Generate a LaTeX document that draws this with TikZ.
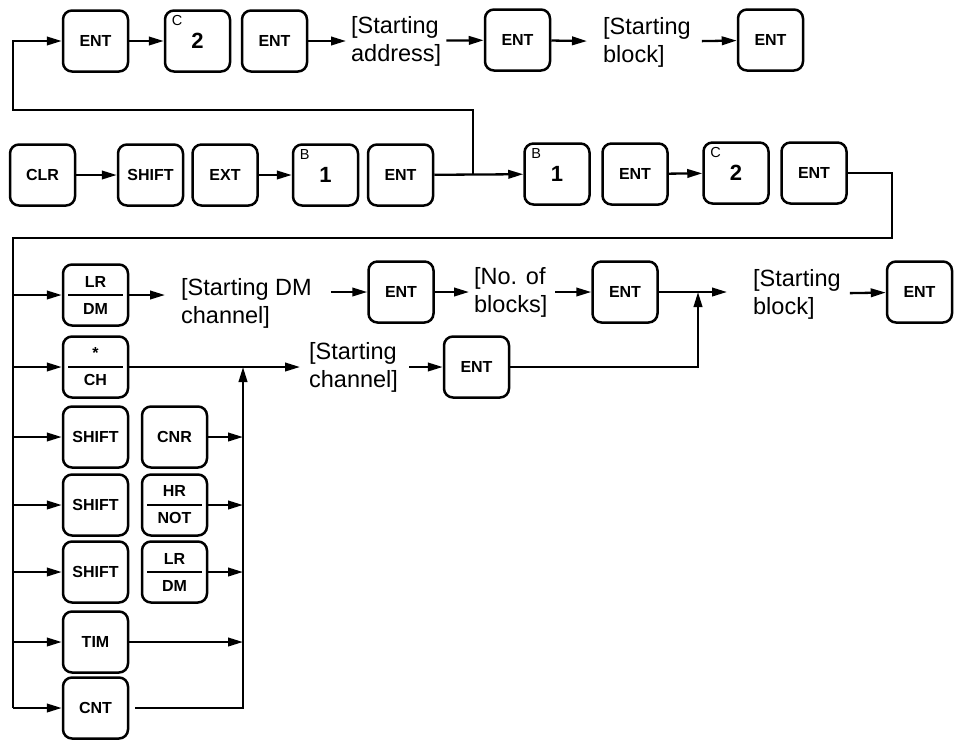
\documentclass[tikz,border=0pt]{standalone}
\usepackage{fontspec}
\setmainfont{Liberation Sans}
\usetikzlibrary{arrows.meta}
\tikzset{
    keybox/.style={draw, line width=2.5pt, rounded corners=9pt, minimum width=65pt,
        minimum height=61pt, inner sep=0pt, font=\bfseries\fontsize{16}{18}\selectfont},
    numbox/.style={keybox, font=\bfseries\fontsize{22}{22}\selectfont,
        label={[anchor=north west, inner sep=0pt, xshift=7pt, yshift=-5pt,
        font=\fontsize{14.5}{14.5}\selectfont]north west:#1}},
    fracbox/.style={keybox, align=center,
        path picture={\draw[line width=2.3pt] ([xshift=5pt]path picture bounding box.west)
        -- ([xshift=-5pt]path picture bounding box.east);}},
    txt/.style={anchor=west, align=left, inner sep=4pt, font=\fontsize{23.5}{28}\selectfont},
    arr/.style={-{Triangle[length=15pt,width=8.5pt]}}
}
\begin{document}
\begin{tikzpicture}[x=1pt, y=-1pt, line width=2.3pt]
\useasboundingbox (0,0) rectangle (958,740);

% Reihe 1
\node[keybox] (ent1) at (95.5,41) {ENT};
\node[numbox=C] (two1) at (197.5,41) {2};
\node[keybox] (ent2) at (274.5,41) {ENT};
\node[txt] (adr) at (346,41) {[Starting\\address]};
\node[keybox] (ent3) at (517.5,40) {ENT};
\node[txt] (blk1) at (598,42) {[Starting\\block]};
\node[keybox] (ent4) at (770.5,40) {ENT};

\draw[arr] (ent1) -- (two1);
\draw[arr] (ent2) -- (adr);
\draw[arr] (adr) -- (ent3);
\draw[arr, shorten >=11pt] (ent3) -- (blk1);
\draw[arr, shorten <=6pt] (blk1) -- (ent4);

% Reihe 2
\node[keybox] (clr) at (42.5,175) {CLR};
\node[keybox] (shift1) at (150.5,175) {SHIFT};
\node[keybox] (ext) at (225,175) {EXT};
\node[numbox=B] (one1) at (325.5,175) {1};
\node[keybox] (ent5) at (400.5,175) {ENT};
\node[numbox=B] (one2) at (557,174) {1};
\node[keybox] (ent6) at (635,174) {ENT};
\node[numbox=C] (two2) at (736,173) {2};
\node[keybox] (ent7) at (814,173) {ENT};

\coordinate (jt) at (473,175);
\coordinate (lp) at (13,110);
\coordinate (rt) at (892,238);
\coordinate (bus) at (13,238);
\coordinate (busend) at (13,708);

\draw[arr] (clr) -- (shift1);
\draw[arr] (ext) -- (one1);
\draw[arr] (ent5) -- (one2);
\draw[arr] (jt) |- (lp) |- (ent1);
\draw[arr] (ent6) -- (two2);
\draw (ent7) -| (rt) -- (bus) -- (busend);

% Verzweigung
\node[fracbox] (lrdm1) at (95.5,295) {LR\\[9pt]DM};
\node[txt] (dmch) at (176,303) {[Starting DM\\channel]};
\node[keybox] (ent8) at (401,292) {ENT};
\node[txt] (nblk) at (469,292) {[No. of\\blocks]};
\node[keybox] (ent9) at (625,292) {ENT};
\node[txt] (blk2) at (748,294) {[Starting\\block]};
\node[keybox] (ent10) at (919.5,292) {ENT};
\coordinate (j1) at (698,292);

\draw[arr, shorten >=11pt] (lrdm1) -- (lrdm1 -| dmch.west);
\draw[arr, shorten <=14pt] (dmch.east |- ent8) -- (ent8);
\draw[arr] (ent8) -- (nblk);
\draw[arr, shorten <=3pt] (nblk) -- (ent9);
\draw[arr, shorten >=21pt] (ent9) -- (ent9 -| blk2.west);
\draw[arr, shorten <=4pt] (blk2) -- (ent10);

\node[fracbox] (chk) at (95.5,367) {*\\[9pt]CH};
\node[txt] (ch) at (304,367) {[Starting\\channel]};
\node[keybox] (ent11) at (476.5,367) {ENT};
\coordinate (j2) at (243,367);

\draw[arr, shorten >=4pt] (chk) -- (ch);
\draw[arr, shorten <=6pt] (ch) -- (ent11);
\draw[arr] (ent11) -| (j1);

\node[keybox] (shift2) at (95.5,437) {SHIFT};
\node[keybox] (cnr) at (174.5,437) {CNR};
\node[keybox] (shift3) at (95.5,505) {SHIFT};
\node[fracbox] (hrnot) at (174.5,505) {HR\\[9pt]NOT};
\node[keybox] (shift4) at (95.5,572) {SHIFT};
\node[fracbox] (lrdm2) at (174.5,572) {LR\\[9pt]DM};
\node[keybox] (tim) at (95.5,642) {TIM};
\node[keybox] (cnt) at (95.5,708) {CNT};

\foreach \k in {lrdm1,chk,shift2,shift3,shift4,tim,cnt}
    \draw[arr] (bus |- \k) -- (\k);
\foreach \k in {cnr,hrnot,lrdm2,tim}
    \draw[arr] (\k) -- (\k -| j2);
\draw[arr, shorten <=6pt] (cnt) -| (j2);
\end{tikzpicture}
\end{document}
